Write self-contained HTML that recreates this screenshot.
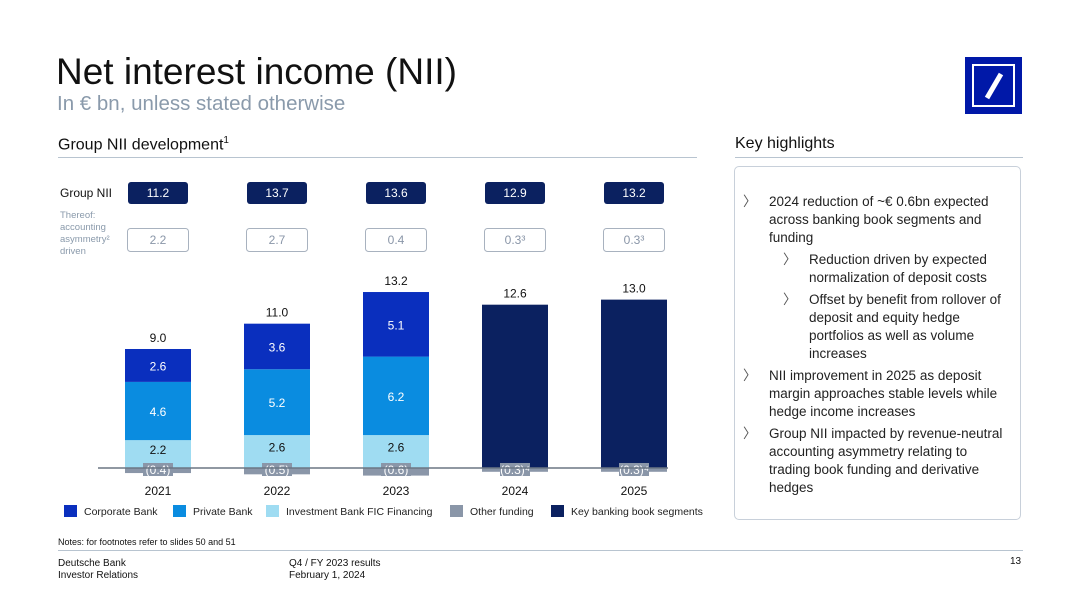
<!DOCTYPE html>
<html><head><meta charset="utf-8">
<style>
body{margin:0;width:1080px;height:608px;background:#fff;font-family:"Liberation Sans",sans-serif;position:relative;overflow:hidden;color:#111}
.abs{position:absolute}
.t{white-space:nowrap}
.bul{position:absolute;font-size:13.5px;line-height:18px;color:#222}
.bul .m{position:absolute;left:-26px;color:#555}
</style></head><body>
<div class="abs t" style="left:56px;top:51px;font-size:37px;color:#111;letter-spacing:0px">Net interest income (NII)</div>
<div class="abs t" style="left:57px;top:92px;font-size:20.5px;color:#8a9aab">In € bn, unless stated otherwise</div>
<div class="abs" style="left:965px;top:57px;width:57px;height:57px;background:#0018a8">
 <div style="position:absolute;left:7px;top:7px;width:39px;height:39px;border:2px solid #fff"></div>
 <svg width="57" height="57" style="position:absolute;left:0;top:0"><line x1="36" y1="17" x2="22" y2="41" stroke="#fff" stroke-width="5"/></svg>
</div>
<div class="abs t" style="left:58px;top:135px;font-size:16px">Group NII development<sup style="font-size:10px">1</sup></div>
<div class="abs" style="left:58px;top:157px;width:639px;height:1px;background:#b8c4d0"></div>
<div class="abs t" style="left:735px;top:135px;font-size:16px">Key highlights</div>
<div class="abs" style="left:735px;top:157px;width:288px;height:1px;background:#b8c4d0"></div>
<div class="abs" style="left:734px;top:166px;width:287px;height:354px;border:1px solid #c8d0da;border-radius:5px;box-sizing:border-box"></div>
<div class="bul" style="left:769px;top:193px;width:235px"><span class="m">〉</span>2024 reduction of ~€ 0.6bn expected across banking book segments and funding</div>
<div class="bul" style="left:809px;top:251px;width:205px"><span class="m">〉</span>Reduction driven by expected normalization of deposit costs</div>
<div class="bul" style="left:809px;top:291px;width:205px"><span class="m">〉</span>Offset by benefit from rollover of deposit and equity hedge portfolios as well as volume increases</div>
<div class="bul" style="left:769px;top:367px;width:240px"><span class="m">〉</span>NII improvement in 2025 as deposit margin approaches stable levels while hedge income increases</div>
<div class="bul" style="left:769px;top:425px;width:240px"><span class="m">〉</span>Group NII impacted by revenue-neutral accounting asymmetry relating to trading book funding and derivative hedges</div>

<svg id="chart" class="abs" style="left:0;top:0" width="1080" height="608"></svg>

<div class="abs t" style="left:58px;top:537px;font-size:9px">Notes: for footnotes refer to slides 50 and 51</div>
<div class="abs" style="left:58px;top:550px;width:965px;height:1px;background:#b8c4d0"></div>
<div class="abs" style="left:58px;top:558px;font-size:10px;line-height:12px">Deutsche Bank<br>Investor Relations</div>
<div class="abs" style="left:289px;top:558px;font-size:10px;line-height:12px">Q4 / FY 2023 results<br>February 1, 2024</div>
<div class="abs" style="left:1010px;top:556px;font-size:10px">13</div>

<script>
const years=["2021","2022","2023","2024","2025"];
const ibFic=[2.2,2.6,2.6,0,0];
const privateBank=[4.6,5.2,6.2,0,0];
const corporateBank=[2.6,3.6,5.1,0,0];
const keySegments=[0,0,0,12.9,13.3];
const otherFunding=[-0.4,-0.5,-0.6,-0.3,-0.3];
const totals=["9.0","11.0","13.2","12.6","13.0"];
const otherLabels=["(0.4)","(0.5)","(0.6)","(0.3)⁴","(0.3)⁴"];
const groupNII=["11.2","13.7","13.6","12.9","13.2"];
const asymmetry=["2.2","2.7","0.4","0.3³","0.3³"];

const svg=document.getElementById('chart');
const NS="http://www.w3.org/2000/svg";
const base=468, pxPerUnit=12.66, x0=158, step=119, bw=66;
const y=v=>base-v*pxPerUnit;
const xc=i=>x0+i*step;
function mk(tag,attrs,txt){const e=document.createElementNS(NS,tag);for(const k in attrs)e.setAttribute(k,attrs[k]);if(txt!=null)e.textContent=txt;svg.appendChild(e);return e;}

const segs=[[ibFic,"#9fdcf2","#111"],[privateBank,"#0a8ce0","#fff"],[corporateBank,"#0a2fbe","#fff"],[keySegments,"#0b2160","#fff"]];
years.forEach((yr,i)=>{
  let acc=0;
  segs.forEach(([arr,col,tc],si)=>{
    const v=arr[i]; if(!v) return;
    const r=mk('rect',{x:xc(i)-bw/2,y:y(acc+v),width:bw,height:v*pxPerUnit,fill:col});
    
    
    if(si<3){const t=mk('text',{x:xc(i),y:y(acc+v/2)+(si==0?0:5),'text-anchor':'middle','font-size':12,fill:tc},v.toFixed(1));
      
      }
    acc+=v;
  });
  const o=mk('rect',{x:xc(i)-bw/2,y:base,width:bw,height:-otherFunding[i]*pxPerUnit,fill:"#8a96a8"});
  
  
  const ob=mk('rect',{x:xc(i)-15,y:base-5,width:30,height:13,fill:"#8a96a8"});
  
  
  const ol=mk('text',{x:xc(i),y:base+6,'text-anchor':'middle','font-size':12,fill:"#fff"},otherLabels[i]);
  
  
  const tt=mk('text',{x:xc(i),y:y(acc)-7,'text-anchor':'middle','font-size':12,fill:"#111"},totals[i]);
  
  
  const xl=mk('text',{x:xc(i),y:495,'text-anchor':'middle','font-size':12,fill:"#111"},yr);
  
  
  const gb=mk('rect',{x:xc(i)-30,y:182,width:60,height:22,rx:3,fill:"#0b2160"});
  
  
  const gt=mk('text',{x:xc(i),y:197,'text-anchor':'middle','font-size':12,fill:"#fff"},groupNII[i]);
  
  
  const ab=mk('rect',{x:xc(i)-30.5,y:228.5,width:61,height:23,rx:3,fill:"#fff",stroke:"#a8b2bf"});
  
  
  const at=mk('text',{x:xc(i),y:244,'text-anchor':'middle','font-size':12,fill:"#8a96a8"},asymmetry[i]);
  
  
});
const axis=mk('line',{x1:98,y1:base,x2:668,y2:base,stroke:"#6b7684","stroke-width":1.5});


const gl=mk('text',{x:60,y:197,'font-size':12,fill:"#111"},"Group NII");


["Thereof:","accounting","asymmetry²","driven"].forEach((s,k)=>{
  const t=mk('text',{x:60,y:218+k*12,'font-size':9.5,fill:"#8a9aab"},s);
  
  
});
const legend=[["Corporate Bank","#0a2fbe",64],["Private Bank","#0a8ce0",173],["Investment Bank FIC Financing","#9fdcf2",266],["Other funding","#8a96a8",450],["Key banking book segments","#0b2160",551]];
legend.forEach(([n,c,x])=>{
  const r=mk('rect',{x:x,y:505,width:13,height:12,fill:c});
  
  
  const t=mk('text',{x:x+20,y:515,'font-size':10.5,fill:"#222"},n);
  
  
});
</script>
</body></html>
